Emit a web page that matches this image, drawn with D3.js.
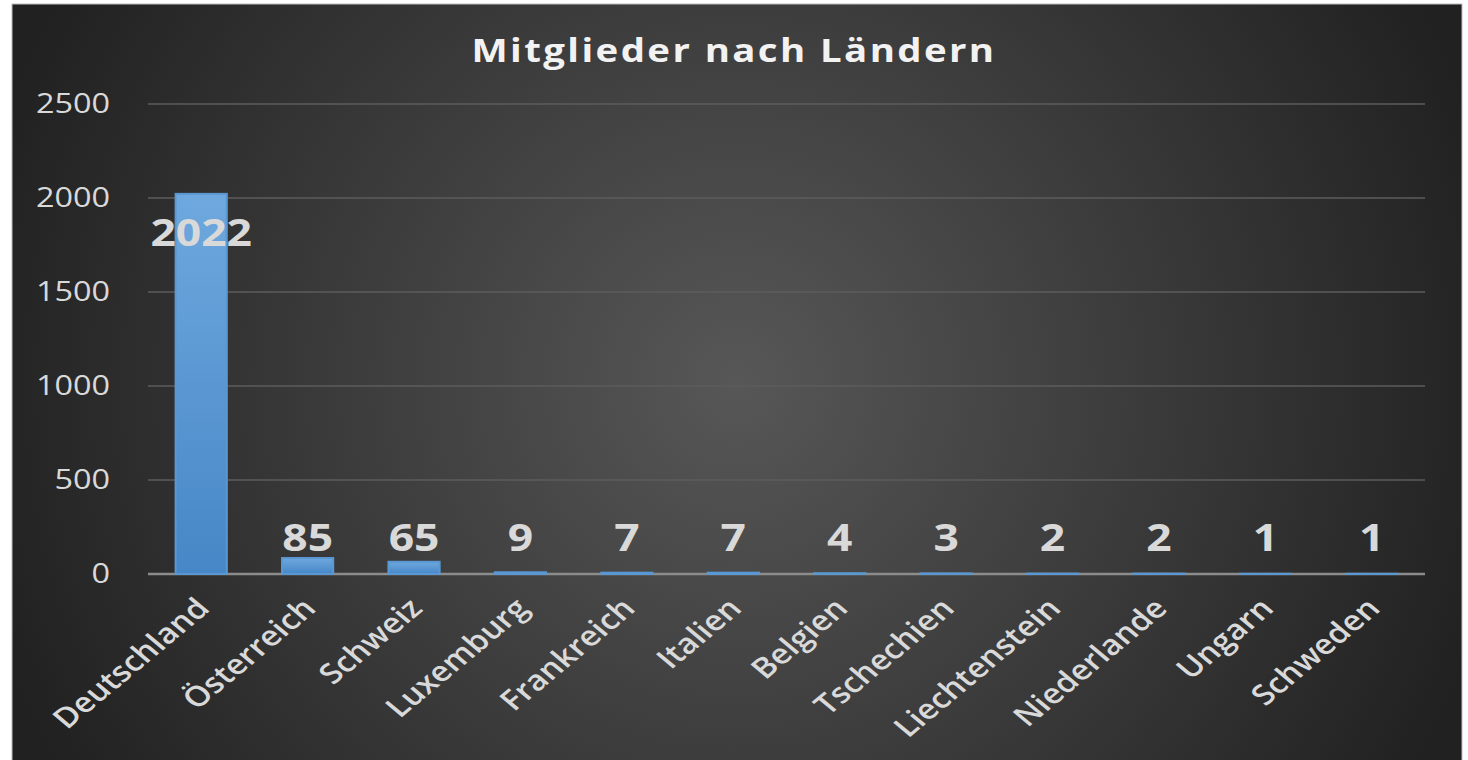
<!DOCTYPE html>
<html>
<head>
<meta charset="utf-8">
<script src="https://cdn.jsdelivr.net/npm/d3@7"></script>
<style>
  body { margin: 0; background: #ffffff; }
  svg { display: block; }
</style>
</head>
<body>
<svg id="chart" width="1468" height="760"></svg>
<script>
// Mitglieder nach Ländern
const countries = ["Deutschland", "Österreich", "Schweiz", "Luxemburg", "Frankreich", "Italien",
  "Belgien", "Tschechien", "Liechtenstein", "Niederlande", "Ungarn", "Schweden"];
const members = [2022, 85, 65, 9, 7, 7, 4, 3, 2, 2, 1, 1];
const yTicks = [0, 500, 1000, 1500, 2000, 2500];
const title = "Mitglieder nach Ländern";

const svg = d3.select("#chart");
const stretch = 1.2; // the picture is a little wide

const defs = svg.append("defs");
const bg = defs.append("radialGradient")
  .attr("id", "bg")
  .attr("gradientUnits", "userSpaceOnUse")
  .attr("cx", 737).attr("cy", 382).attr("r", 780);
bg.append("stop").attr("offset", "0").attr("stop-color", "#575757");
bg.append("stop").attr("offset", "1").attr("stop-color", "#212121");

const barFill = defs.append("linearGradient")
  .attr("id", "barFill")
  .attr("x1", 0).attr("y1", 0).attr("x2", 0).attr("y2", 1);
barFill.append("stop").attr("offset", "0").attr("stop-color", "#6ea8de");
barFill.append("stop").attr("offset", "1").attr("stop-color", "#4787c7");

// chart area
svg.append("rect")
  .attr("x", 12).attr("y", 4)
  .attr("width", 1450).attr("height", 760)
  .attr("fill", "url(#bg)")
  .attr("stroke", "#bdbdbd")
  .attr("stroke-width", 1);

const x = d3.scaleBand()
  .domain(countries)
  .range([148, 1425])
  .paddingInner(0.5)
  .paddingOuter(0.25);

const y = d3.scaleLinear()
  .domain([0, 2500])
  .range([574, 104]);

// gridlines
svg.append("g")
  .selectAll("line")
  .data(yTicks.filter(d => d > 0))
  .join("line")
  .attr("x1", 148).attr("x2", 1425)
  .attr("y1", d => y(d)).attr("y2", d => y(d))
  .attr("stroke", "#5c5c5c")
  .attr("stroke-width", 1.5);

// y axis labels
const yAxis = svg.append("g")
  .attr("transform", "translate(148,0)")
  .call(d3.axisLeft(y).tickValues(yTicks).tickFormat(d3.format("d")).tickSize(0).tickPadding(38));
yAxis.select(".domain").remove();
yAxis.selectAll("text")
  .attr("fill", "#d9d9d9")
  .style("font-family", "'Open Sans', sans-serif")
  .style("font-size", "27px")
  .attr("transform", `scale(${stretch},1)`)
  .attr("x", -38 / stretch);

// zero line
svg.append("line")
  .attr("x1", 148).attr("x2", 1425)
  .attr("y1", y(0)).attr("y2", y(0))
  .attr("stroke", "#8c8c8c")
  .attr("stroke-width", 2.5);

// bars
svg.append("g")
  .selectAll("rect")
  .data(countries)
  .join("rect")
  .attr("x", d => x(d) + 1)
  .attr("width", x.bandwidth() - 2)
  .attr("y", (d, i) => y(members[i]))
  .attr("height", (d, i) => y(0) - y(members[i]))
  .attr("fill", "url(#barFill)")
  .attr("stroke", "#5a98d4")
  .attr("stroke-width", 2);

// value labels
svg.append("g")
  .selectAll("text")
  .data(countries)
  .join("text")
  .attr("transform", (d, i) => {
    const v = members[i];
    const top = y(v);
    const base = (y(0) - top > 100) ? top + 52 : Math.min(top - 7, y(0) - 23);
    return `translate(${x(d) + x.bandwidth() / 2},${base}) scale(${stretch},1)`;
  })
  .attr("text-anchor", "middle")
  .attr("fill", "#d9d9d9")
  .style("font-family", "'Open Sans', sans-serif")
  .style("font-weight", "bold")
  .style("font-size", "37px")
  .text((d, i) => members[i]);

// category labels
svg.append("g")
  .selectAll("text")
  .data(countries)
  .join("text")
  .attr("transform", d => `translate(${x(d) + x.bandwidth() / 2 + 10},610) scale(${stretch},1) rotate(-45)`)
  .attr("text-anchor", "end")
  .attr("fill", "#d9d9d9")
  .style("font-family", "'Open Sans', sans-serif")
  .style("font-weight", "600")
  .style("font-size", "28px")
  .text(d => d);

// title
svg.append("text")
  .attr("transform", `translate(734,62) scale(${stretch},1)`)
  .attr("text-anchor", "middle")
  .attr("fill", "#f2f2f2")
  .style("font-family", "'Open Sans', sans-serif")
  .style("font-weight", "bold")
  .style("font-size", "32px")
  .style("letter-spacing", "2px")
  .text(title);
</script>
</body>
</html>
